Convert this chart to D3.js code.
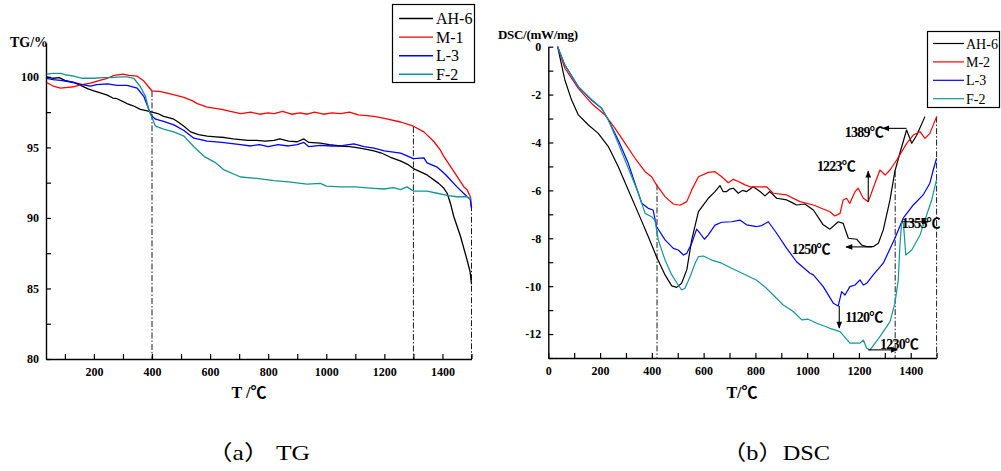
<!DOCTYPE html>
<html><head><meta charset="utf-8">
<script src="https://cdn.jsdelivr.net/npm/d3@7"></script>
<style>body{margin:0;background:#fff}svg{display:block}</style>
</head><body>
<svg id="c" width="1001" height="471"></svg>
<script>
// ---------- DATA ----------
const tgNames = ["AH-6", "M-1", "L-3", "F-2"];
const dscNames = ["AH-6", "M-2", "L-3", "F-2"];
const seriesColors = ["#000000", "#ff0000", "#0000ff", "#139696"];

// TG curves: [temperature °C, mass %]
const tgAH6 = [[37,100.0],[60,99.9],[80,99.95],[100,99.75],[130,99.6],[154,99.4],[180,99.15],[200,99.0],[225,98.85],[246,98.7],[265,98.5],[280,98.45],[300,98.25],[314,98.1],[335,97.95],[360,97.7],[380,97.6],[400,97.5],[420,97.4],[440,97.2],[460,97.1],[475,97.0],[490,96.8],[510,96.5],[533,96.1],[560,95.9],[590,95.8],[620,95.75],[650,95.7],[680,95.6],[705,95.55],[730,95.5],[760,95.5],[790,95.45],[820,95.5],[840,95.6],[870,95.45],[900,95.4],[923,95.6],[940,95.35],[980,95.3],[1010,95.2],[1049,95.1],[1080,95.05],[1100,95.0],[1130,94.9],[1164,94.75],[1190,94.6],[1221,94.3],[1255,94.05],[1280,93.8],[1300,93.5],[1347,93.05],[1387,92.45],[1405,92.1],[1416,91.75],[1428,91.0],[1439,90.1],[1462,88.7],[1485,87.0],[1495,86.2],[1500,85.3]];
const tgM1 = [[37,99.6],[60,99.35],[85,99.2],[110,99.25],[131,99.3],[160,99.45],[188,99.55],[220,99.75],[246,99.9],[270,100.1],[300,100.2],[320,100.1],[349,100.05],[372,99.7],[388,99.3],[400,99.0],[430,98.95],[452,98.85],[480,98.7],[510,98.55],[540,98.3],[556,98.1],[590,97.85],[640,97.7],[670,97.55],[705,97.4],[740,97.5],[770,97.35],[800,97.45],[820,97.4],[850,97.55],[880,97.35],[910,97.45],[934,97.35],[960,97.5],[990,97.35],[1020,97.45],[1049,97.4],[1080,97.5],[1110,97.3],[1140,97.25],[1164,97.2],[1200,97.05],[1256,96.8],[1300,96.5],[1336,96.1],[1371,95.4],[1393,94.8],[1405,94.35],[1439,93.3],[1474,92.2],[1485,92.0],[1496,91.5],[1500,90.7]];
const tgL3 = [[37,99.9],[60,99.8],[85,99.75],[131,99.6],[160,99.45],[188,99.35],[210,99.45],[246,99.5],[280,99.4],[314,99.4],[349,99.2],[372,98.6],[389,97.7],[400,97.2],[412,97.0],[440,96.85],[475,96.6],[510,96.2],[544,95.65],[590,95.45],[640,95.35],[705,95.2],[740,95.1],[770,95.2],[800,95.05],[834,95.2],[870,95.1],[900,95.2],[923,95.35],[940,95.05],[980,95.15],[1020,95.1],[1049,95.1],[1095,95.25],[1130,95.05],[1164,94.95],[1200,94.75],[1256,94.6],[1300,94.2],[1336,94.25],[1347,93.9],[1382,93.6],[1404,93.2],[1416,92.95],[1450,92.2],[1485,91.5],[1496,91.3],[1500,90.7]];
const tgF2 = [[37,100.2],[60,100.25],[85,100.25],[100,100.15],[131,100.05],[160,99.9],[200,99.9],[230,99.95],[260,99.95],[290,100.0],[314,100.0],[337,99.9],[360,99.3],[378,98.6],[389,97.65],[400,97.1],[412,96.5],[440,96.3],[475,96.1],[510,95.8],[544,95.05],[580,94.35],[620,93.9],[648,93.4],[705,92.9],[760,92.8],[820,92.65],[870,92.55],[934,92.4],[980,92.45],[1000,92.25],[1049,92.2],[1100,92.2],[1130,92.15],[1164,92.1],[1200,92.05],[1230,92.15],[1256,92.0],[1278,92.2],[1301,91.9],[1347,91.9],[1382,91.75],[1416,91.6],[1450,91.5],[1485,91.5],[1500,91.3]];

// DSC curves: [temperature °C, mW/mg]
const dscAH6 = [[36,0],[50,-0.7],[64,-1.39],[90,-2.23],[116,-2.85],[155,-3.27],[193,-3.62],[232,-4.17],[270,-5.0],[309,-5.98],[348,-6.96],[386,-7.93],[418,-8.77],[451,-9.53],[477,-9.99],[496,-10.05],[515,-9.88],[535,-9.32],[554,-8.07],[580,-6.89],[618,-6.33],[644,-6.05],[663,-5.8],[675,-6.05],[689,-6.05],[700,-5.95],[715,-5.91],[734,-6.12],[750,-6.0],[766,-6.05],[792,-5.85],[818,-6.05],[837,-6.23],[856,-6.05],[882,-6.33],[921,-6.4],[940,-6.5],[959,-6.61],[991,-6.57],[1024,-6.82],[1062,-7.44],[1088,-7.62],[1120,-7.31],[1139,-7.38],[1159,-8.0],[1191,-8.04],[1210,-8.28],[1230,-8.35],[1255,-8.35],[1275,-8.21],[1294,-7.65],[1320,-6.4],[1339,-5.2],[1358,-4.45],[1384,-3.48],[1404,-4.03],[1423,-3.7],[1455,-2.92]];
const dscM2 = [[36,0],[64,-0.9],[116,-1.74],[167,-2.37],[219,-2.85],[258,-3.41],[296,-4.03],[335,-4.66],[374,-5.22],[399,-5.43],[418,-5.77],[451,-6.26],[483,-6.57],[509,-6.62],[535,-6.47],[554,-5.98],[580,-5.43],[618,-5.25],[644,-5.22],[670,-5.43],[695,-5.68],[715,-5.54],[734,-5.63],[760,-5.77],[779,-5.85],[810,-5.85],[843,-5.85],[869,-6.12],[921,-6.19],[972,-6.47],[1024,-6.61],[1088,-6.89],[1107,-7.07],[1127,-6.96],[1139,-6.4],[1152,-6.33],[1165,-6.54],[1185,-6.05],[1197,-5.91],[1217,-6.33],[1236,-6.47],[1262,-5.7],[1281,-5.15],[1301,-5.36],[1320,-5.15],[1346,-4.73],[1384,-4.05],[1410,-3.69],[1436,-3.55],[1455,-3.83],[1474,-3.62],[1500,-2.92]];
const dscL3 = [[36,0],[64,-0.77],[116,-1.67],[167,-2.23],[206,-2.57],[232,-3.06],[270,-3.9],[309,-4.87],[335,-5.71],[361,-6.54],[386,-6.75],[405,-6.82],[418,-7.51],[451,-8.07],[483,-8.42],[502,-8.49],[522,-8.7],[535,-8.63],[554,-8.21],[573,-7.62],[586,-7.79],[603,-8.04],[618,-7.86],[644,-7.45],[670,-7.33],[708,-7.31],[740,-7.24],[766,-7.44],[805,-7.51],[824,-7.47],[850,-7.31],[882,-7.79],[921,-8.42],[959,-8.98],[1011,-9.46],[1024,-9.53],[1062,-10.02],[1101,-10.71],[1120,-10.83],[1133,-10.23],[1146,-10.37],[1165,-10.02],[1185,-9.95],[1204,-9.74],[1217,-9.95],[1230,-9.88],[1255,-9.53],[1294,-9.04],[1339,-8.0],[1371,-7.16],[1410,-6.61],[1448,-6.19],[1474,-5.7],[1487,-5.15],[1500,-4.66]];
const dscF2 = [[36,0],[64,-0.77],[116,-1.67],[167,-2.2],[206,-2.57],[232,-3.06],[270,-4.03],[309,-5.08],[348,-6.12],[374,-6.96],[399,-7.1],[412,-7.24],[425,-8.07],[451,-8.91],[477,-9.53],[502,-9.95],[515,-10.16],[528,-10.09],[548,-9.6],[567,-9.04],[580,-8.77],[599,-8.74],[631,-8.91],[670,-9.04],[708,-9.25],[747,-9.45],[805,-9.75],[843,-10.09],[869,-10.37],[908,-10.79],[946,-11.06],[979,-11.41],[1004,-11.38],[1037,-11.55],[1088,-11.76],[1127,-11.9],[1165,-12.38],[1204,-12.38],[1217,-12.25],[1230,-12.59],[1243,-12.66],[1281,-12.11],[1320,-11.48],[1339,-10.71],[1352,-9.74],[1358,-8.35],[1365,-7.31],[1372,-7.4],[1381,-8.7],[1404,-8.49],[1436,-7.86],[1468,-6.82],[1481,-6.4],[1500,-5.55]];

const tgSeries = [tgAH6, tgM1, tgL3, tgF2];
const dscSeries = [dscAH6, dscM2, dscL3, dscF2];

const tgXLabels = [200, 400, 600, 800, 1000, 1200, 1400];
const tgYLabels = [80, 85, 90, 95, 100];
const dscXLabels = [0, 200, 400, 600, 800, 1000, 1200, 1400];
const dscYLabels = [0, -2, -4, -6, -8, -10, -12];

// vertical dash-dot markers: [T, top value]
const tgMarkers = [[400, 99.0], [1300, 96.45], [1500, 90.9]];
const dscMarkers = [[420, -5.75], [1340, -5.2], [1500, -2.92]];

// annotations: label, label position (T,v), arrow from (T,v) to (T,v)
const dscNotes = [
  {label: "1389℃", lx: 1219, lv: -3.56, x1: 1384, v1: -3.41, x2: 1292, v2: -3.41},
  {label: "1223℃", lx: 1111, lv: -4.98, x1: 1236, v1: -6.47, x2: 1236, v2: -5.2},
  {label: "1250℃", lx: 1014, lv: -8.45, x1: 1250, v1: -8.36, x2: 1150, v2: -8.36},
  {label: "1120℃", lx: 1219, lv: -11.29, x1: 1124, v1: -10.83, x2: 1124, v2: -11.75},
  {label: "1230℃", lx: 1355, lv: -12.41, x1: 1236, v1: -12.66, x2: 1348, v2: -12.66},
  {label: "1355℃", lx: 1439, lv: -7.36, x1: 1365, v1: -7.31, x2: 1468, v2: -7.31}
];

// ---------- DRAW ----------
const svg = d3.select("#c");
const serif = "'Liberation Serif','Times New Roman',serif";
const serifCJK = "'Liberation Serif','Noto Sans CJK SC',serif";
const defs = svg.append("defs");
defs.append("marker").attr("id", "arr").attr("viewBox", "0 0 10 10")
  .attr("refX", 9).attr("refY", 5).attr("markerWidth", 9).attr("markerHeight", 7)
  .attr("markerUnits", "userSpaceOnUse").attr("orient", "auto")
  .append("path").attr("d", "M0,1 L10,5 L0,9 Z").attr("fill", "#000");

function styleAxis(g) {
  g.select(".domain").attr("stroke", "#000").attr("stroke-width", 1.4);
  g.selectAll(".tick line").attr("stroke", "#000").attr("stroke-width", 1.2);
  g.selectAll(".tick text").attr("font-family", serif).attr("font-weight", "bold")
    .attr("font-size", 12).attr("fill", "#000");
}

// --- TG panel ---
const tx = d3.scaleLinear().domain([35, 1500]).range([46, 471.5]);
const ty = d3.scaleLinear().domain([80, 102.4]).range([359, 43]);

const gx1 = svg.append("g").attr("transform", `translate(0,${ty(80)})`)
  .call(d3.axisBottom(tx).tickValues(d3.range(100, 1501, 100)).tickSize(-5).tickSizeOuter(0)
    .tickPadding(8).tickFormat(d => tgXLabels.includes(d) ? d : ""));
styleAxis(gx1);
const gy1 = svg.append("g").attr("transform", `translate(${tx(35)},0)`)
  .call(d3.axisLeft(ty).tickValues(d3.range(80, 100.1, 2.5)).tickSize(-5).tickSizeOuter(0)
    .tickPadding(7).tickFormat(d => tgYLabels.includes(d) ? d : ""));
styleAxis(gy1);

const dashStyle = sel => sel.attr("stroke", "#000").attr("stroke-width", 0.9).attr("stroke-dasharray", "6,2,1.5,2");
tgMarkers.forEach(m => {
  svg.append("line").attr("x1", tx(m[0])).attr("x2", tx(m[0]))
    .attr("y1", ty(m[1])).attr("y2", ty(80)).call(dashStyle);
});

const tline = d3.line().x(d => tx(d[0])).y(d => ty(d[1]));
tgSeries.forEach((s, i) => {
  svg.append("path").datum(s).attr("d", tline).attr("fill", "none")
    .attr("stroke", seriesColors[i]).attr("stroke-width", 1.3).attr("stroke-linejoin", "round");
});

svg.append("text").attr("x", 10).attr("y", 47).text("TG/%")
  .attr("font-family", serif).attr("font-weight", "bold").attr("font-size", 14);
svg.append("text").attr("x", 249).attr("y", 398).attr("text-anchor", "middle").text("T /℃")
  .attr("font-family", serifCJK).attr("font-weight", "bold").attr("font-size", 16);

// TG legend
const lg1 = svg.append("g");
lg1.append("rect").attr("x", 392.5).attr("y", 4.5).attr("width", 82).attr("height", 78)
  .attr("fill", "#fff").attr("stroke", "#000").attr("stroke-width", 1.2);
tgNames.forEach((n, i) => {
  const yy = 18.5 + i * 18.6;
  lg1.append("line").attr("x1", 399).attr("x2", 433).attr("y1", yy).attr("y2", yy)
    .attr("stroke", seriesColors[i]).attr("stroke-width", 1.4);
  lg1.append("text").attr("x", 436).attr("y", yy + 5.5).text(n)
    .attr("font-family", serif).attr("font-size", 16);
});

// --- DSC panel ---
const dx = d3.scaleLinear().domain([0, 1500]).range([548.3, 936.6]);
const dy = d3.scaleLinear().domain([-13, 0]).range([358, 46.7]);

const gx2 = svg.append("g").attr("transform", `translate(0,${dy(-13)})`)
  .call(d3.axisBottom(dx).tickValues(d3.range(0, 1501, 100)).tickSize(-5).tickSizeOuter(0)
    .tickPadding(8).tickFormat(d => dscXLabels.includes(d) ? d : ""));
styleAxis(gx2);
const gy2 = svg.append("g").attr("transform", `translate(${dx(0)},0)`)
  .call(d3.axisLeft(dy).tickValues(d3.range(-13, 0.1, 1)).tickSize(-5).tickSizeOuter(0)
    .tickPadding(7).tickFormat(d => dscYLabels.includes(d) ? d : ""));
styleAxis(gy2);

dscMarkers.forEach(m => {
  svg.append("line").attr("x1", dx(m[0])).attr("x2", dx(m[0]))
    .attr("y1", dy(m[1])).attr("y2", dy(-13)).call(dashStyle);
});

const dline = d3.line().x(d => dx(d[0])).y(d => dy(d[1]));
dscSeries.forEach((s, i) => {
  svg.append("path").datum(s).attr("d", dline).attr("fill", "none")
    .attr("stroke", seriesColors[i]).attr("stroke-width", 1.2).attr("stroke-linejoin", "round");
});

dscNotes.forEach(n => {
  svg.append("line").attr("x1", dx(n.x1)).attr("y1", dy(n.v1)).attr("x2", dx(n.x2)).attr("y2", dy(n.v2))
    .attr("stroke", "#000").attr("stroke-width", 1.1).attr("marker-end", "url(#arr)");
  svg.append("text").attr("x", dx(n.lx)).attr("y", dy(n.lv) + 5).attr("text-anchor", "middle")
    .text(n.label).attr("font-family", serifCJK).attr("font-weight", "bold").attr("font-size", 14)
    .attr("letter-spacing", -0.8);
});

svg.append("text").attr("x", 498).attr("y", 39).text("DSC/(mW/mg)")
  .attr("font-family", serif).attr("font-weight", "bold").attr("font-size", 13).attr("letter-spacing", -0.3);
svg.append("text").attr("x", 742).attr("y", 398).attr("text-anchor", "middle").text("T/℃")
  .attr("font-family", serifCJK).attr("font-weight", "bold").attr("font-size", 16);

// DSC legend
const lg2 = svg.append("g");
lg2.append("rect").attr("x", 927.5).attr("y", 31.5).attr("width", 72).attr("height", 76)
  .attr("fill", "#fff").attr("stroke", "#000").attr("stroke-width", 1.2);
dscNames.forEach((n, i) => {
  const yy = 43.5 + i * 18.4;
  lg2.append("line").attr("x1", 933).attr("x2", 964).attr("y1", yy).attr("y2", yy)
    .attr("stroke", seriesColors[i]).attr("stroke-width", 1.2);
  lg2.append("text").attr("x", 966).attr("y", yy + 5).text(n)
    .attr("font-family", serif).attr("font-size", 14);
});

// captions
svg.append("text").attr("x", 207).attr("y", 460).text("（a）  TG")
  .attr("font-family", serifCJK).attr("font-size", 21)
  .attr("textLength", 103).attr("lengthAdjust", "spacingAndGlyphs");
svg.append("text").attr("x", 722).attr("y", 460).text("（b）DSC")
  .attr("font-family", serifCJK).attr("font-size", 21)
  .attr("textLength", 108).attr("lengthAdjust", "spacingAndGlyphs");
</script>
</body></html>
